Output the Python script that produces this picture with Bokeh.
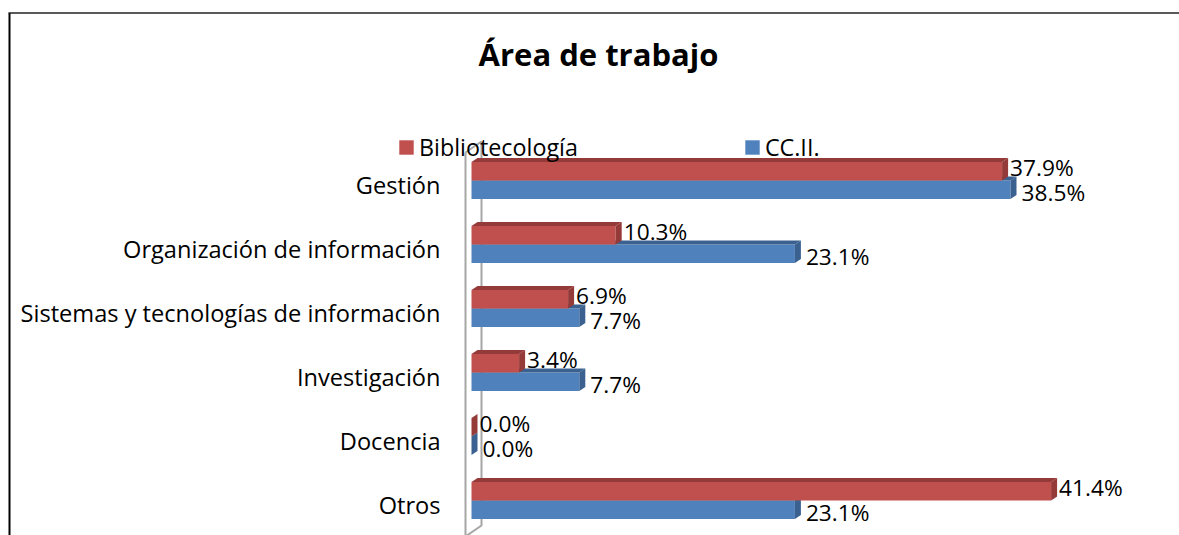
from bokeh.plotting import figure
from bokeh.models import Range1d, Label, Legend, LegendItem, ColumnDataSource
from bokeh.embed import file_html
from bokeh.resources import INLINE
from bokeh.core.properties import value

# ---- data ----
categories = ["Gestión", "Organización de información",
              "Sistemas y tecnologías de información", "Investigación",
              "Docencia", "Otros"]
biblio = [37.9, 10.3, 6.9, 3.4, 0.0, 41.4]
ccii = [38.5, 23.1, 7.7, 7.7, 0.0, 23.1]
series_names = ["Bibliotecología", "CC.II."]
title_text = "Área de trabajo"

# ---- geometry / style ----
W, H = 1179, 535
PXU = 14.0        # px per percent
ZERO_X = 471.0    # canvas px of value 0
STEP = 64.0       # px per category
CAT0 = 180.0      # canvas px of first category center
FONT = "Open Sans"

x_range = Range1d(-ZERO_X / PXU, (W - ZERO_X) / PXU)
y_range = Range1d((H - CAT0) / STEP, -CAT0 / STEP)

p = figure(width=W, height=H, x_range=x_range, y_range=y_range,
           x_axis_type=None, y_axis_type=None,
           output_backend="svg", toolbar_location=None, min_border=0,
           outline_line_color=None, background_fill_color="white",
           border_fill_color="white")
p.title.visible = False

def py(px):  # pixel distance -> y units
    return px / STEP

def px_(px):  # pixel distance -> x units
    return px / PXU

def xs_at(canvas_x):
    return (canvas_x - ZERO_X) / PXU

def ys_at(canvas_y):
    return (canvas_y - CAT0) / STEP

# outer chart border (left and top)
p.line([xs_at(9), xs_at(9)], [ys_at(H + 5), ys_at(12.5)], line_color="black", line_width=2)
p.line([xs_at(8), xs_at(W + 5)], [ys_at(12.5), ys_at(12.5)], line_color="#222222", line_width=1.5)

# 3D wall outline
n = len(categories)
lx, rx = -px_(6), px_(10)
lt, lb = -0.5 + py(4), n - 0.5 + py(4)
rt, rb = -0.5 - py(7), n - 0.5 - py(7)
p.line([lx, lx, rx, rx, lx], [lt, lb, rb, rt, lt], line_color="#a6a6a6", line_width=2)

bh = 18.5 / STEP
ddx, ddy = px_(6), py(4)

def draw_series(vals, off, front, dark):
    ys = [i + off for i in range(n)]
    src = ColumnDataSource(dict(y=ys, right=vals))
    r = p.hbar(y="y", right="right", left=0, height=bh, source=src,
               fill_color=front, line_color=None)
    top_xs, top_ys, side_xs, side_ys = [], [], [], []
    for v, yc in zip(vals, ys):
        t, b = yc - bh / 2, yc + bh / 2
        top_xs.append([0, v, v + ddx, ddx])
        top_ys.append([t, t, t - ddy, t - ddy])
        side_xs.append([v, v + ddx, v + ddx, v])
        side_ys.append([t, t - ddy, b - ddy, b])
    p.patches(top_xs, top_ys, fill_color=dark, line_color=None)
    p.patches(side_xs, side_ys, fill_color=dark, line_color=None)
    return r, ys

rb_, ys_b = draw_series(ccii, bh / 2, "#4F81BD", "#3A6190")
rr_, ys_r = draw_series(biblio, -bh / 2, "#C0504D", "#943A38")

# value labels
p.text(x=biblio, y=ys_r, text=[f"{v:.1f}%" for v in biblio], x_offset=8, y_offset=-4,
       text_font=value(FONT), text_font_size="22.7px", text_color="black",
       text_align="left", text_baseline="middle")
p.text(x=ccii, y=ys_b, text=[f"{v:.1f}%" for v in ccii], x_offset=11, y_offset=3,
       text_font=value(FONT), text_font_size="22.7px", text_color="black",
       text_align="left", text_baseline="middle")

# category labels
p.text(x=[0] * n, y=list(range(n)), text=categories, x_offset=-31, y_offset=4,
       text_font=value(FONT), text_font_size="23.6px", text_color="black",
       text_align="right", text_baseline="middle")

# title
p.add_layout(Label(x=598, y=H - 53, x_units="screen", y_units="screen",
                   text=title_text, text_align="center", text_baseline="middle",
                   text_font=FONT, text_font_style="bold", text_font_size="31px",
                   text_color="black"))

# legend
legend = Legend(items=[LegendItem(label=series_names[0], renderers=[rr_]),
                       LegendItem(label=series_names[1], renderers=[rb_])],
                orientation="horizontal", location=(397, H - 163),
                glyph_width=18, glyph_height=18, label_standoff=4,
                label_text_font=FONT, label_text_font_size="23.3px",
                label_text_color="black",
                spacing=165, padding=0, margin=0,
                border_line_color=None, background_fill_alpha=0)
p.add_layout(legend)

open("out.html", "w").write(file_html(p, INLINE))
